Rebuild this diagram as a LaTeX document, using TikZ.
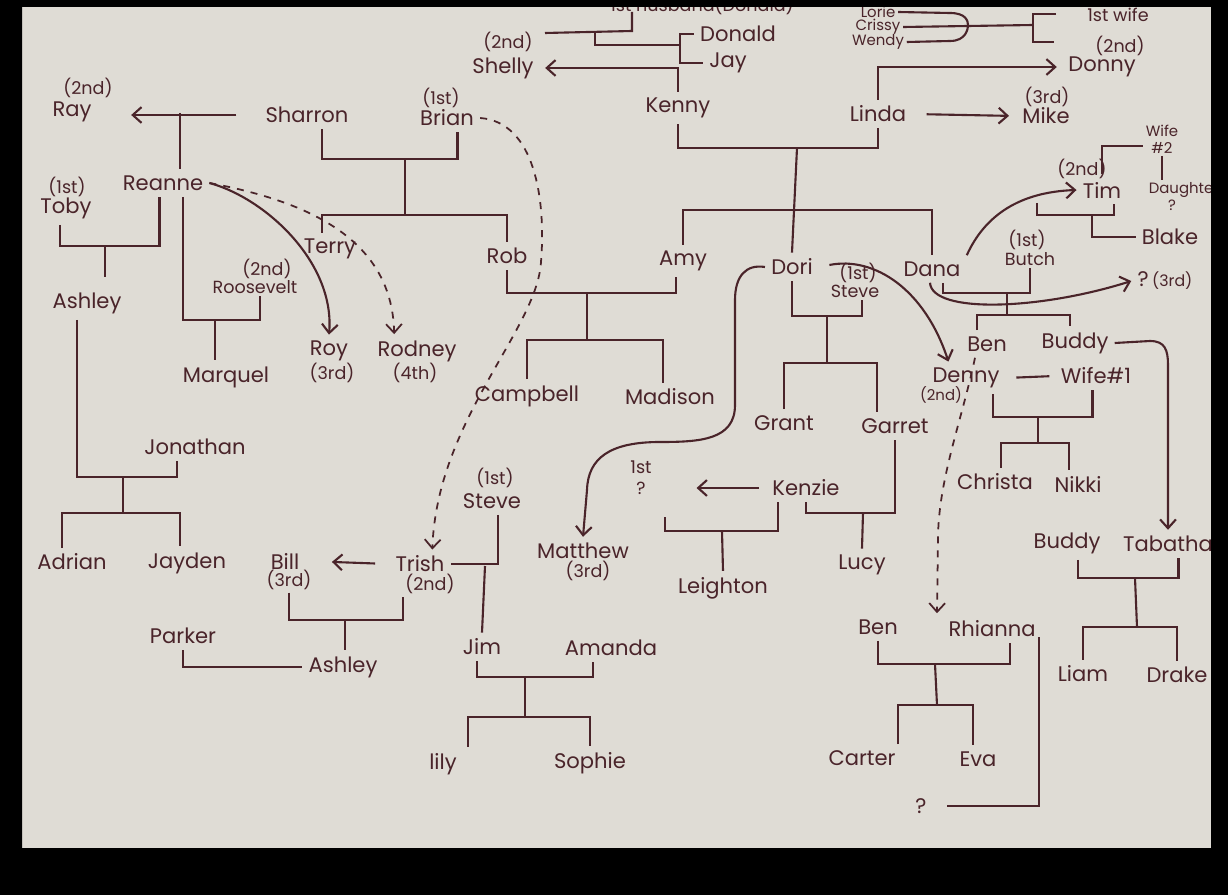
\documentclass[tikz,border=0pt]{standalone}
\usepackage{fontspec}
\setmainfont{Poppins}
\usetikzlibrary{arrows.meta,positioning}
\definecolor{paper}{RGB}{223,220,213}
\definecolor{ink}{RGB}{74,36,42}

\begin{document}
\begin{tikzpicture}[x=0.02cm,y=-0.02cm,line width=1.2pt,color=ink,
                    >={Straight Barb[length=5pt,width=9pt]},
                    person/.style={font=\fontsize{12}{14}\selectfont,inner sep=3pt},
                    ordlab/.style={font=\fontsize{10}{12}\selectfont,inner sep=1pt},
                    weelab/.style={font=\fontsize{8.5}{9.5}\selectfont,inner sep=1pt},
                    maybe/.style={dash pattern=on 4pt off 4pt,line width=1pt}]
  \useasboundingbox (0,0) rectangle (1228,895);
  \fill[black] (0,0) rectangle (1228,895);
  \fill[paper] (22,7) rectangle (1211,848);

  % top row
  \node[ordlab] (husb)      at (702,5)    {1st husband(Donald)};
  \node[ordlab] (shellyord) at (508,42)   {(2nd)};
  \node[person] (shelly)    at (503,68)   {Shelly};
  \node[person] (donald)    at (738,34)   {Donald};
  \node[person] (jay)       at (728,63)   {Jay};
  \node[person] (kenny)     at (678,108)  {Kenny};
  \node[weelab] (lorie)     at (878,12)   {Lorie};
  \node[weelab] (crissy)    at (878,27)   {Crissy};
  \node[weelab] (wendy)     at (878,42)   {Wendy};
  \node[ordlab] (wifefirst) at (1118,15)  {1st wife};
  \node[ordlab] (donnyord)  at (1120,46)  {(2nd)};
  \node[person] (donny)     at (1102,67)  {Donny};
  \node[person] (linda)     at (878,114)  {Linda};
  \node[ordlab] (mikeord)   at (1047,97)  {(3rd)};
  \node[person] (mike)      at (1046,116) {Mike};

  % second generation
  \node[ordlab] (rayord)    at (88,88)    {(2nd)};
  \node[person] (ray)       at (72,112)   {Ray};
  \node[person] (sharron)   at (307,115)  {Sharron};
  \node[ordlab] (brianord)  at (441,98)   {(1st)};
  \node[person] (brian)     at (447,118)  {Brian};
  \node[person] (reanne)    at (163,183)  {Reanne};
  \node[ordlab] (tobyord)   at (67,187)   {(1st)};
  \node[person] (toby)      at (66,208)   {Toby};
  \node[person] (terry)     at (330,249)  {Terry};
  \node[person] (rob)       at (507,256)  {Rob};
  \node[person] (amy)       at (683,261)  {Amy};
  \node[person] (dori)      at (792,267)  {Dori};
  \node[person] (dana)      at (932,269)  {Dana};
  \node[ordlab] (steveord)  at (858,273)  {(1st)};
  \node[ordlab] (steve)     at (855,291)  {Steve};
  \node[ordlab] (butchord)  at (1027,240) {(1st)};
  \node[ordlab] (butch)     at (1030,259) {Butch};
  \node[ordlab] (timord)    at (1082,169) {(2nd)};
  \node[person] (tim)       at (1102,190) {Tim};
  \node[weelab,align=center] (wifetwo) at (1162,139) {Wife\\\#2};
  \node[weelab,anchor=west]  (daughter) at (1146,190) {Daughter};
  \node[weelab] (daughterq) at (1172,205)  {?};
  \node[person] (blake)     at (1170,237) {Blake};
  \node[person] (unkthree)  at (1165,281) {?\,{\small(3rd)}};

  % third generation
  \node[ordlab] (roosord)   at (267,269)  {(2nd)};
  \node[ordlab] (roosevelt) at (255,287)  {Roosevelt};
  \node[person] (ashley)    at (87,303)   {Ashley};
  \node[person] (marquel)   at (226,377)  {Marquel};
  \node[person] (roy)       at (329,351)  {Roy};
  \node[ordlab] (royord)    at (332,373)  {(3rd)};
  \node[person] (rodney)    at (417,351)  {Rodney};
  \node[ordlab] (rodneyord) at (415,373)  {(4th)};
  \node[person] (campbell)  at (527,396)  {Campbell};
  \node[person] (madison)   at (670,397)  {Madison};
  \node[person] (grant)     at (784,423)  {Grant};
  \node[person] (garret)    at (895,426)  {Garret};
  \node[person] (ben)       at (987,344)  {Ben};
  \node[person] (buddy)     at (1075,343) {Buddy};
  \node[person] (denny)     at (966,378)  {Denny};
  \node[weelab] (dennyord)  at (941,395)  {(2nd)};
  \node[person] (wifeone)   at (1096,376) {Wife\#1};
  \node[person] (christa)   at (995,482)  {Christa};
  \node[person] (nikki)     at (1078,484) {Nikki};
  \node[person] (jonathan)  at (195,447)  {Jonathan};
  \node[ordlab] (stevetwoord) at (495,478) {(1st)};
  \node[person] (stevetwo)  at (492,501)  {Steve};
  \node[person] (matthew)   at (583,551)  {Matthew};
  \node[ordlab] (mattheword) at (588,571) {(3rd)};
  \node[ordlab,align=center] (firstq) at (641,478) {1st\\?};
  \node[person] (kenzie)    at (806,488)  {Kenzie};
  \node[person] (leighton)  at (723,588)  {Leighton};
  \node[person] (lucy)      at (862,565)  {Lucy};

  % fourth generation
  \node[person] (adrian)    at (72,562)   {Adrian};
  \node[person] (jayden)    at (187,563)  {Jayden};
  \node[person] (bill)      at (285,561)  {Bill};
  \node[ordlab] (billord)   at (289,580)  {(3rd)};
  \node[person] (trish)     at (420,564)  {Trish};
  \node[ordlab] (trishord)  at (430,584)  {(2nd)};
  \node[person] (parker)    at (183,636)  {Parker};
  \node[person] (ashleytwo) at (343,667)  {Ashley};
  \node[person] (jim)       at (482,647)  {Jim};
  \node[person] (amanda)    at (611,648)  {Amanda};
  \node[person] (lily)      at (443,764)  {lily};
  \node[person] (sophie)    at (590,763)  {Sophie};
  \node[person] (bentwo)    at (878,627)  {Ben};
  \node[person] (rhianna)   at (992,629)  {Rhianna};
  \node[person] (carter)    at (862,758)  {Carter};
  \node[person] (eva)       at (978,759)  {Eva};
  \node[person] (unkq)      at (921,806)  {?};
  \node[person] (buddytwo)  at (1067,543) {Buddy};
  \node[person] (tabatha)   at (1168,544) {Tabatha};
  \node[person] (liam)      at (1083,674) {Liam};
  \node[person] (drake)     at (1177,675) {Drake};

  % top lines
  \draw (545,33) -- (632,31) -- (632,12);
  \draw (595,32) |- (680,45);
  \draw (donald.west) -| (680,50) |- (jay.west);
  \draw[->,shorten >=3pt] (kenny.north) |- (shelly.east);
  \draw (lorie.east) -- (950,13) .. controls (966,13) and (968,21) .. (968,25);
  \draw (wendy.east) -- (950,41) .. controls (966,41) and (968,29) .. (968,25);
  \draw (crissy.east) -- (1033,25);
  \draw (1056,14) -| (1033,42) -- (1054,42);
  \draw[->,shorten >=3pt] (linda.north) |- (donny.west);
  \draw[->,shorten <=8pt,shorten >=4pt] (linda.east) -- (mike.west);

  % Kenny and Linda
  \coordinate (kl) at (797,148);
  \draw (kenny.south) |- (kl) -| (linda.south);
  \draw (kl) -- (dori.north);
  \draw (amy.north) |- (dana.north |- 0,210) -- (dana.north);

  % Sharron and Brian
  \draw[->,shorten <=13pt,shorten >=19pt] (sharron.west) -- (sharron.west -| ray.east);
  \draw (180,113) -- (reanne.north -| 180,0);
  \coordinate (sb) at (405,159);
  \draw (sharron.south) ++(15,0) |- (sb) -| ([xshift=6pt]brian.south);
  \draw (sb) -- (405,215);
  \draw (terry.north) ++(-8,0) |- (405,215) -| (rob.north);
  \draw[maybe,->] (brian.east) .. controls (535,122) and (546,200) .. (541,262)
        .. controls (537,330) and (437,420) .. ([xshift=7pt]trish.north);

  % Reanne
  \draw (toby.south) ++(-6,0) |- (105,246) -| ([xshift=-2pt]reanne.south);
  \draw (105,246) -- (105,277);
  \draw (reanne.south) ++(20,0) |- (215,320) -| ([xshift=3pt]roosevelt.south);
  \draw (215,320) -- (marquel.north -| 215,0);
  \draw[->] (reanne.east) .. controls (265,198) and (335,262) .. (roy.north);
  \draw[maybe,->] (reanne.east) .. controls (300,200) and (392,235) .. ([xshift=-13pt]rodney.north);

  % Ashley and Jonathan
  \draw (ashley.south) ++(-10,0) |- (123,477) -| ([xshift=-10pt]jonathan.south);
  \draw (123,477) -- (123,513);
  \draw (adrian.north) ++(-10,0) |- (123,513) -| ([xshift=-4pt]jayden.north);

  % Trish
  \draw[->,shorten <=8pt,shorten >=15pt] (trish.west) -- (bill.east);
  \draw (billord.south) |- (345,620) -| (trishord.south west);
  \draw (345,620) -- (ashleytwo.north -| 345,0);
  \draw (parker.south) |- (ashleytwo.west);
  \draw (stevetwo.south) ++(6,0) |- (trish.east);
  \draw (485,566) -- (jim.north);
  \draw (jim.south) ++(-5,0) |- (525,677) -| ([xshift=-10pt]amanda.south);
  \draw (525,677) -- (525,717);
  \draw (lily.north) ++(25,0) |- (525,717) -| (sophie.north);

  % Rob and Amy
  \draw (rob.south) |- (587,293) -| ([xshift=-4pt]amy.south);
  \draw (587,293) -- (587,340);
  \draw (campbell.north) |- (587,340) -| ([xshift=-4pt]madison.north);

  % Dori
  \draw (dori.south) |- (827,316) -| ([xshift=4pt]steve.south);
  \draw (827,316) -- (827,363);
  \draw (grant.north) |- (827,363) -| ([xshift=-10pt]garret.north);
  \draw[->] (dori.west) .. controls (746,264) and (735,276) .. (735,300) -- (735,405)
        .. controls (735,440) and (700,442) .. (660,442)
        .. controls (610,442) and (588,458) .. (587,490) -- (matthew.north);
  \draw[->,shorten <=6pt] (dori.east) .. controls (875,256) and (925,290) .. ([xshift=-10pt]denny.north);

  % Kenzie and Garret
  \draw[->,shorten <=4pt,shorten >=24pt] (kenzie.west) -- (firstq.east |- kenzie.west);
  \draw (kenzie.south) ++(-28,0) |- (665,531) -- (665,517);
  \draw (722,531) -- (leighton.north);
  \draw (kenzie.south) |- (863,513) -| (garret.south);
  \draw (863,513) -- (lucy.north);

  % Dana
  \draw (dana.south) ++(11,0) |- (1007,293) -| (butch.south);
  \draw (1007,293) -- (1007,315);
  \draw (ben.north) ++(-10,0) |- (1007,315) -| ([xshift=-3pt]buddy.north);
  \draw[->] (dana.south) ++(-2,0) .. controls (932,314) and (1040,310) .. (unkthree.west);
  \draw[->] (dana.north east) .. controls (985,215) and (1020,192) .. (tim.west);
  \draw (1102,174) |- ([yshift=-4pt]wifetwo.west);
  \draw (wifetwo.south) -- (wifetwo.south |- daughter.north);
  \draw (1037,203) |- (1092,215) -| ([xshift=7pt]tim.south);
  \draw (1092,215) |- (blake.west);

  % Denny and Buddy
  \draw[shorten <=6pt,shorten >=3pt] (denny.east) -- (wifeone.west);
  \draw (denny.south) ++(27,0) |- (1038,417) -| ([xshift=-2pt]wifeone.south);
  \draw (1038,417) -- (1038,443);
  \draw (christa.north) ++(6,0) |- (1038,443) -| ([xshift=-5pt]nikki.north);
  \draw[maybe,->] (ben.south) ++(-12,0) .. controls (962,420) and (938,480) .. (938,540)
        -- (bentwo.north -| 937,0);
  \draw[->] (buddy.east) -- (1150,341) .. controls (1165,341) and (1168,350) .. (1168,365)
        -- (tabatha.north -| 1168,0);
  \draw (buddytwo.south) ++(11,0) |- (1135,578) -| ([xshift=6pt]tabatha.south);
  \draw (1135,578) -- (1137,627);
  \draw (liam.north) |- (1137,627) -| (drake.north);

  % Ben and Rhianna
  \draw (bentwo.south) |- (935,664) -| ([xshift=10pt]rhianna.south);
  \draw (935,664) -- (937,705);
  \draw (carter.north) ++(36,0) |- (937,705) -| ([xshift=-3pt]eva.north);
  \draw[shorten >=8pt] (rhianna.east) ++(-3,8) |- (unkq.east);

  \fill[black,even odd rule] (0,0) rectangle (1228,895) (22,7) rectangle (1211,848);
\end{tikzpicture}
\end{document}
